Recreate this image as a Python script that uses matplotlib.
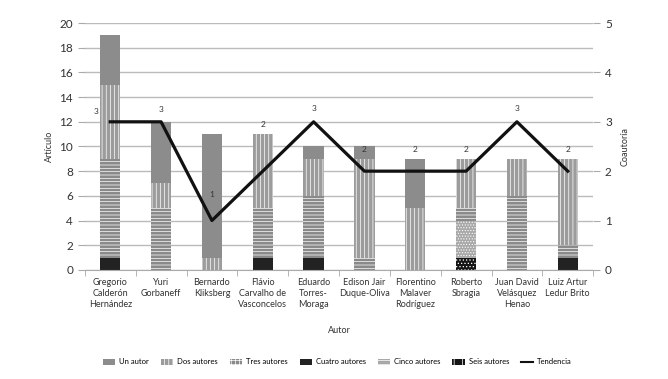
import matplotlib.pyplot as plt
import numpy as np
from matplotlib.patches import Patch
from matplotlib.lines import Line2D

plt.rcParams['font.family'] = ['Lato', 'DejaVu Sans']
plt.rcParams['hatch.linewidth'] = 0.5

# Data
autores = ["Gregorio\nCalderón\nHernández", "Yuri\nGorbaneff", "Bernardo\nKliksberg",
           "Flávio\nCarvalho de\nVasconcelos", "Eduardo\nTorres-\nMoraga",
           "Edison Jair\nDuque-Oliva", "Florentino\nMalaver\nRodríguez",
           "Roberto\nSbragia", "Juan David\nVelásquez\nHenao", "Luiz Artur\nLedur Brito"]

# articles stacked bottom -> top
seis = [0, 0, 0, 0, 0, 0, 0, 1, 0, 0]
cuatro = [1, 0, 0, 1, 1, 0, 0, 0, 0, 1]
cinco = [0, 0, 0, 0, 0, 0, 0, 3, 0, 0]
tres = [8, 5, 0, 4, 5, 1, 0, 1, 6, 1]
dos = [6, 2, 1, 6, 3, 8, 5, 4, 3, 7]
un = [4, 5, 10, 0, 1, 1, 4, 0, 0, 0]

tendencia = [3, 3, 1, 2, 3, 2, 2, 2, 3, 2]

# label offsets (pixels) for the tendency values
lab_dx = [-14, 0, 0, 0, 0, 0, 0, 0, 0, 0]
lab_dy = [7, 9, 23, 43, 10, 18, 18, 18, 10, 18]

fig = plt.figure(figsize=(6.68, 3.79), dpi=100)
ax = fig.add_axes([0.127, 0.288, 0.761, 0.651])
x = np.arange(len(autores))
w = 0.4

series = [
    (seis, 'Seis autores', '#151515', '.....'),
    (cuatro, 'Cuatro autores', '#222222', None),
    (cinco, 'Cinco autores', '#a8a8a8', '......'),
    (tres, 'Tres autores', '#8a8a8a', '-----'),
    (dos, 'Dos autores', '#9c9c9c', '||||'),
    (un, 'Un autor', '#8c8c8c', None),
]
bottom = np.zeros(len(autores))
for vals, name, fc, hatch in series:
    vals = np.array(vals)
    ax.bar(x, vals, w, bottom=bottom, color=fc, edgecolor='white', linewidth=0,
           hatch=hatch, zorder=2)
    bottom += vals

ax.set_xlim(-0.5, 9.5)
ax.set_ylim(0, 20)
ax.set_yticks(range(0, 21, 2))
ax.grid(axis='y', color='#bbbbbb', linewidth=1, zorder=0)
for s in ['top', 'left', 'right']:
    ax.spines[s].set_visible(False)
ax.spines['bottom'].set_color('#aaaaaa')
ax.set_xticks(x)
ax.set_xticklabels(autores, fontsize=6.5, color='#333333', linespacing=1.3)
ax.set_xticks(np.arange(-0.5, 10, 1), minor=True)
ax.tick_params(axis='x', which='major', length=0, pad=6)
ax.tick_params(axis='x', which='minor', length=4, color='#aaaaaa')
ax.tick_params(axis='y', length=5, color='#aaaaaa', labelsize=8.5, labelcolor='#333333')
ax.set_ylabel('Artículo', fontsize=6.5, color='#333333', labelpad=4)
ax.set_xlabel('Autor', fontsize=6.5, color='#333333', labelpad=12)

ax2 = ax.twinx()
ax2.set_ylim(0, 5)
ax2.set_yticks(range(0, 6))
for s in ['top', 'left', 'right', 'bottom']:
    ax2.spines[s].set_visible(False)
ax2.tick_params(axis='y', length=5, color='#aaaaaa', labelsize=8.5, labelcolor='#333333')
ax2.plot(x, tendencia, color='#111111', linewidth=2.3, zorder=5)
for i, v in enumerate(tendencia):
    ax2.annotate(str(v), (x[i], v), xytext=(lab_dx[i] * 0.72, lab_dy[i] * 0.72),
                 textcoords='offset points', ha='center', va='bottom',
                 fontsize=6, color='#333333')
ax2.set_ylabel('Coautoría', fontsize=6.5, color='#333333', labelpad=6)

handles = [
    Patch(facecolor='#8c8c8c', label='Un autor'),
    Patch(facecolor='#9c9c9c', edgecolor='white', linewidth=0, hatch='||||', label='Dos autores'),
    Patch(facecolor='#8a8a8a', edgecolor='white', linewidth=0, hatch='++++', label='Tres autores'),
    Patch(facecolor='#222222', label='Cuatro autores'),
    Patch(facecolor='#a8a8a8', edgecolor='white', linewidth=0, hatch='----', label='Cinco autores'),
    Patch(facecolor='#151515', edgecolor='white', linewidth=0, hatch='||', label='Seis autores'),
    Line2D([0], [0], color='#111111', linewidth=1.5, label='Tendencia'),
]
fig.legend(handles=handles, loc='center', bbox_to_anchor=(0.505, 0.045), ncol=7,
           frameon=False, fontsize=5.5, handlelength=1.6, handleheight=0.9,
           columnspacing=1.6, handletextpad=0.5)

fig.savefig('out.png', dpi=100)
